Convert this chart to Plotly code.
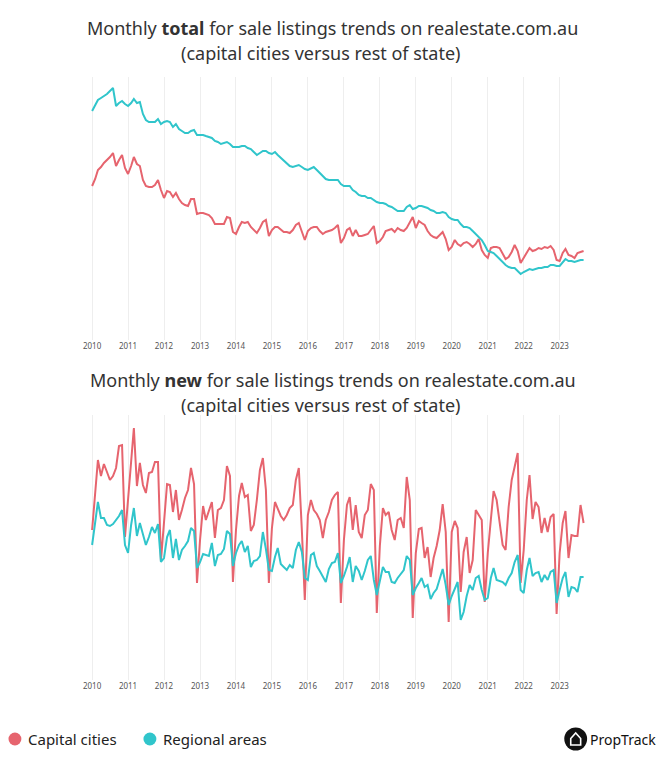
import pandas as pd
import plotly.graph_objects as go

W, H = 668, 759

# ---------------- data (index units, monthly Jan-2010 .. Sep-2023) ----------------
months = pd.date_range("2010-01-01", periods=165, freq="MS")
year_ticks = [str(y) for y in range(2010, 2024)]

total_capital = [
    154, 161, 170, 173, 177, 180, 183, 187, 174, 180, 185, 172,
    166, 174, 183, 176, 174, 160, 154, 153, 153, 155, 160, 150,
    142, 149, 148, 143, 147, 141, 137, 135, 134, 141, 141, 126,
    127, 127, 126, 125, 122, 116, 116, 116, 116, 123, 122, 108,
    106, 113, 118, 117, 118, 113, 110, 107, 112, 118, 120, 104,
    110, 113, 113, 110, 108, 108, 107, 110, 115, 117, 108, 100,
    109, 112, 113, 113, 109, 106, 108, 109, 110, 112, 115, 97,
    102, 110, 112, 104, 110, 104, 104, 105, 106, 110, 114, 97,
    99, 103, 109, 110, 111, 108, 112, 110, 109, 112, 117, 123,
    112, 119, 117, 115, 109, 105, 103, 102, 105, 108, 101, 90,
    93, 100, 96, 94, 97, 98, 96, 93, 96, 101, 90, 85,
    82, 92, 93, 93, 92, 87, 81, 83, 88, 95, 89, 77,
    82, 88, 92, 89, 90, 92, 91, 93, 92, 94, 90, 80,
    79, 87, 91, 85, 84, 82, 87, 88, 89,
]
total_regional = [
    229, 235, 240, 242, 244, 246, 249, 252, 234, 237, 239, 236,
    234, 237, 241, 237, 238, 226, 220, 218, 218, 218, 221, 216,
    218, 219, 218, 213, 216, 211, 209, 207, 207, 209, 210, 205,
    205, 205, 204, 203, 202, 199, 198, 196, 197, 198, 196, 193,
    193, 193, 194, 194, 192, 191, 188, 185, 187, 189, 189, 187,
    186, 188, 185, 182, 180, 177, 174, 173, 174, 175, 173, 171,
    170, 172, 173, 170, 167, 164, 161, 160, 160, 160, 160, 156,
    154, 154, 154, 150, 148, 145, 144, 144, 142, 142, 140, 138,
    137, 137, 136, 134, 133, 131, 129, 129, 129, 133, 135, 131,
    132, 134, 134, 133, 132, 130, 129, 127, 127, 128, 127, 123,
    121, 120, 120, 116, 113, 113, 112, 109, 106, 103, 100, 95,
    89, 88, 87, 84, 81, 78, 75, 73, 72, 72, 69, 66,
    68, 70, 71, 70, 71, 72, 72, 73, 73, 75, 75, 74,
    74, 78, 81, 79, 79, 78, 79, 80, 80,
]
new_capital = [
    150, 185, 220, 204, 216, 208, 200, 204, 212, 234, 235, 143,
    180, 218, 252, 194, 217, 195, 187, 207, 208, 218, 218, 119,
    157, 196, 195, 168, 190, 160, 170, 182, 190, 212, 196, 97,
    140, 174, 160, 170, 178, 142, 170, 172, 180, 214, 204, 98,
    150, 184, 197, 183, 185, 149, 155, 180, 210, 222, 190, 97,
    152, 178, 172, 164, 160, 165, 172, 175, 200, 212, 150, 80,
    165, 180, 170, 166, 160, 142, 160, 168, 180, 185, 188, 77,
    140, 175, 183, 150, 175, 148, 142, 165, 170, 196, 190, 67,
    134, 172, 165, 168, 150, 140, 160, 162, 152, 203, 180, 62,
    127, 151, 152, 122, 133, 103, 122, 134, 150, 176, 148, 58,
    148, 159, 152, 88, 128, 143, 107, 120, 170, 165, 160, 78,
    127, 160, 189, 180, 160, 135, 130, 173, 200, 215, 227, 97,
    130, 180, 205, 161, 178, 173, 147, 162, 148, 163, 166, 66,
    127, 157, 169, 122, 145, 144, 144, 175, 157,
]
new_regional = [
    135, 158, 178, 162, 162, 155, 154, 156, 160, 164, 170, 135,
    127, 155, 172, 144, 157, 147, 135, 143, 153, 147, 156, 118,
    122, 143, 150, 122, 141, 120, 130, 134, 139, 152, 149, 112,
    118, 126, 125, 124, 137, 114, 125, 126, 131, 149, 146, 114,
    127, 135, 139, 128, 134, 113, 119, 120, 124, 148, 131, 110,
    109, 123, 132, 116, 113, 110, 115, 112, 130, 138, 128, 102,
    100, 125, 127, 114, 109, 103, 98, 111, 117, 118, 127, 97,
    104, 113, 123, 98, 114, 109, 100, 109, 120, 124, 100, 85,
    100, 113, 108, 108, 98, 97, 102, 106, 110, 124, 120, 85,
    92, 97, 102, 93, 95, 81, 87, 91, 100, 111, 95, 75,
    84, 92, 98, 60, 68, 84, 95, 90, 102, 104, 90, 80,
    82, 102, 112, 100, 99, 98, 95, 102, 107, 118, 125, 90,
    87, 110, 122, 104, 107, 108, 98, 105, 100, 108, 110, 77,
    90, 102, 108, 83, 93, 92, 88, 103, 103,
]

series_names = ["Capital cities", "Regional areas"]
RED = "#E6646E"
TEAL = "#30C5CB"
FONT = "Noto Sans"

fig = go.Figure()
fig.add_trace(go.Scatter(x=months, y=total_capital, mode="lines", name=series_names[0],
                         line=dict(color=RED, width=2), xaxis="x", yaxis="y"))
fig.add_trace(go.Scatter(x=months, y=total_regional, mode="lines", name=series_names[1],
                         line=dict(color=TEAL, width=2), xaxis="x", yaxis="y"))
fig.add_trace(go.Scatter(x=months, y=new_capital, mode="lines", name=series_names[0],
                         line=dict(color=RED, width=2), xaxis="x2", yaxis="y2"))
fig.add_trace(go.Scatter(x=months, y=new_regional, mode="lines", name=series_names[1],
                         line=dict(color=TEAL, width=2), xaxis="x2", yaxis="y2"))

def px_x(p):
    return p / W

def px_y(p):
    return 1 - p / H

tickvals = [f"{y}-01-01" for y in year_ticks]
xcommon = dict(
    domain=[px_x(84), px_x(588.5)],
    range=["2009-11-24", "2023-10-27"],
    showgrid=True, gridcolor="#EEEEEE", gridwidth=1,
    tickvals=tickvals, ticktext=year_ticks,
    tickfont=dict(family=FONT, size=8, color="#555555"),
    showline=False, zeroline=False, ticks="", fixedrange=True,
)
fig.update_layout(
    width=W, height=H,
    margin=dict(l=0, r=0, t=0, b=0),
    paper_bgcolor="white", plot_bgcolor="white",
    showlegend=False,
    font=dict(family=FONT, color="#333333"),
    xaxis=dict(anchor="y", **xcommon),
    yaxis=dict(domain=[px_y(340), px_y(77)], range=[0, 263], visible=False, fixedrange=True),
    xaxis2=dict(anchor="y2", **xcommon),
    yaxis2=dict(domain=[px_y(680), px_y(415)], range=[0, 265], visible=False, fixedrange=True),
)

ann = []
def title(text, xpix, ypix):
    ann.append(dict(text=text, x=px_x(xpix), xref="paper", y=px_y(ypix), yref="paper",
                    xanchor="center", yanchor="middle", showarrow=False,
                    font=dict(family=FONT, size=18, color="#333333")))

title("Monthly <b>total</b> for sale listings trends on realestate.com.au", 330, 28)
title("(capital cities versus rest of state)", 318, 53)
title("Monthly <b>new</b> for sale listings trends on realestate.com.au", 330, 380)
title("(capital cities versus rest of state)", 318, 405)

shapes = []
def circle(cx, cy, r, color):
    shapes.append(dict(type="circle", xref="paper", yref="paper",
                       x0=px_x(cx - r), x1=px_x(cx + r), y0=px_y(cy + r), y1=px_y(cy - r),
                       fillcolor=color, line=dict(width=0)))

for name, color, cx in [(series_names[0], RED, 10), (series_names[1], TEAL, 146)]:
    circle(cx, 739, 6.5, color)
    ann.append(dict(text=name, x=px_x(cx + 11), xref="paper", y=px_y(739), yref="paper",
                    xanchor="left", yanchor="middle", showarrow=False,
                    font=dict(family=FONT, size=15, color="#222222")))

# PropTrack logo
lx, ly = 575, 739
circle(lx, ly, 11.5, "#111111")
pts = [(lx - 5, ly + 6), (lx - 5, ly - 0.5), (lx, ly - 6), (lx + 5, ly - 0.5), (lx + 5, ly + 6)]
path = "M " + " L ".join(f"{px_x(a):.5f},{px_y(b):.5f}" for a, b in pts) + " Z"
shapes.append(dict(type="path", xref="paper", yref="paper", path=path,
                   line=dict(color="white", width=1.6), fillcolor="rgba(0,0,0,0)"))
ann.append(dict(text="PropTrack", x=px_x(587), xref="paper", y=px_y(739), yref="paper",
                xanchor="left", yanchor="middle", showarrow=False,
                font=dict(family=FONT, size=14, color="#111111")))

fig.update_layout(annotations=ann, shapes=shapes)
fig.write_html("out.html", config={"displayModeBar": False},
               post_script="document.body.style.margin='0';document.body.style.overflow='hidden';")
